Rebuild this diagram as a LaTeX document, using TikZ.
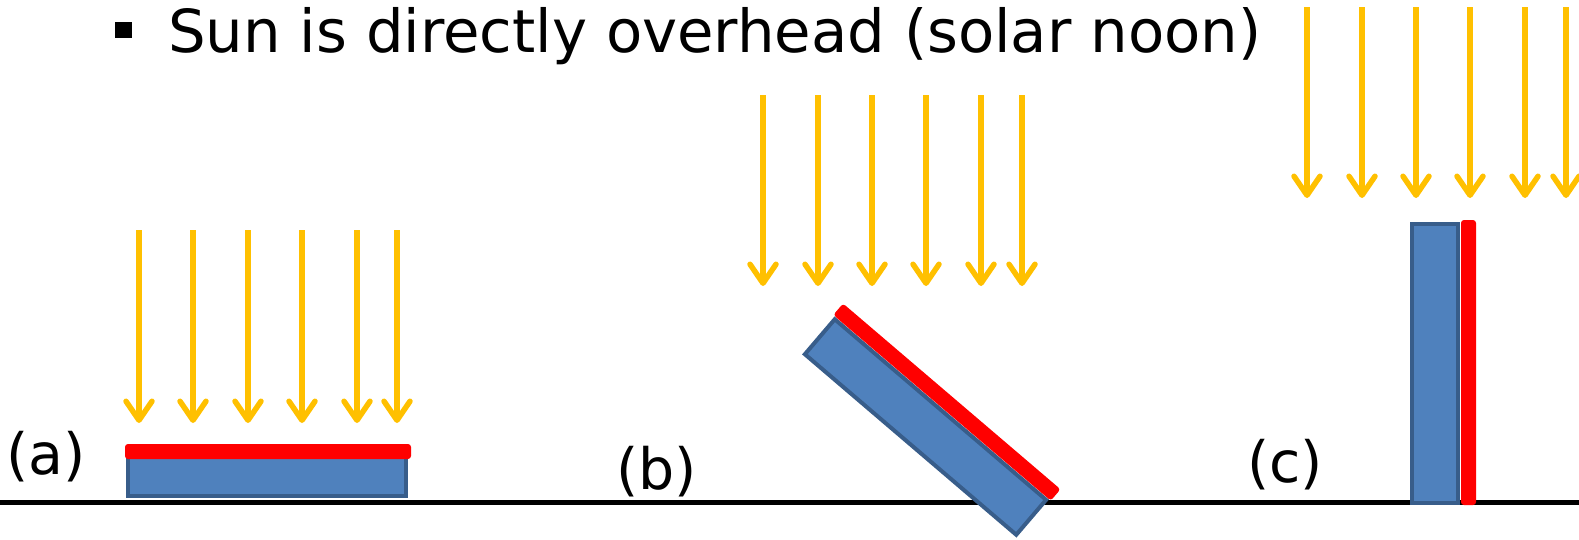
\documentclass[tikz,border=0pt]{standalone}
\usepackage{fontspec}
\setmainfont{DejaVu Sans}
\usetikzlibrary{arrows.meta}
\definecolor{sunray}{HTML}{FFC000}
\definecolor{panelfill}{HTML}{4F81BD}
\definecolor{panelline}{HTML}{385D8A}
\definecolor{cellred}{HTML}{FF0000}
\tikzset{
  ray/.style={draw=sunray, line width=5.5pt, line cap=butt,
    -{Straight Barb[length=19pt, width=26pt, round]}},
  panel/.style={draw=panelline, fill=panelfill, line width=4pt, inner sep=0pt, outer sep=0pt,
    minimum width=278pt, minimum height=46pt},
  redbar/.style={fill=cellred, rounded corners=3pt, inner sep=0pt, outer sep=0pt,
    minimum width=286pt, minimum height=15pt},
  lbl/.style={anchor=base west, inner sep=0pt, font=\fontsize{57}{68}\selectfont},
}
\begin{document}
\begin{tikzpicture}[x=1pt,y=1pt]
\useasboundingbox (0,0) rectangle (1579,-539);
% ground
\coordinate (g0) at (0,-502);
\coordinate (g1) at (1579,-502);
\draw[line width=5pt] (g0) -- (g1);
% title
\node[fill=black, minimum width=17pt, minimum height=16pt, inner sep=0pt] (bul) at (123.5,-30) {};
\node[anchor=base west, inner sep=0pt, font=\fontsize{59.3}{71}\selectfont] (title) at (168,-52) {Sun is directly overhead (solar noon)};
% labels
\node[lbl] (la) at (6,-474) {(a)};
\node[lbl] (lb) at (616,-489) {(b)};
\node[lbl] (lc) at (1247,-482) {(c)};
% panel (a)
\node[panel] (pa) at (266.5,-473) {};
\node[redbar] (ra) at (268,-451.5) {};
% panel (b)
\node[panel, rotate=-40.5] (pb) at (925.5,-427) {};
\node[redbar, rotate=-40.5] (rb) at (946.9,-402.1) {};
% panel (c)
\node[panel, minimum width=46pt, minimum height=279pt] (pc) at (1435,-363.5) {};
\node[redbar, minimum width=15pt, minimum height=285pt] (rc) at (1468.5,-362.5) {};
% rays (a)
\foreach \i/\x in {1/139,2/193,3/248,4/302,5/357,6/397}{
  \coordinate (at\i) at (\x,-230);
  \coordinate (ab\i) at (\x,-423);
  \draw[ray] (at\i) -- (ab\i);
}
% rays (b)
\foreach \i/\x in {1/763,2/818,3/872,4/926,5/981,6/1022}{
  \coordinate (bt\i) at (\x,-95);
  \coordinate (bb\i) at (\x,-286);
  \draw[ray] (bt\i) -- (bb\i);
}
% rays (c)
\foreach \i/\x in {1/1307,2/1362,3/1416,4/1470,5/1525,6/1566}{
  \coordinate (ct\i) at (\x,-7);
  \coordinate (cb\i) at (\x,-198);
  \draw[ray] (ct\i) -- (cb\i);
}
\end{tikzpicture}
\end{document}
